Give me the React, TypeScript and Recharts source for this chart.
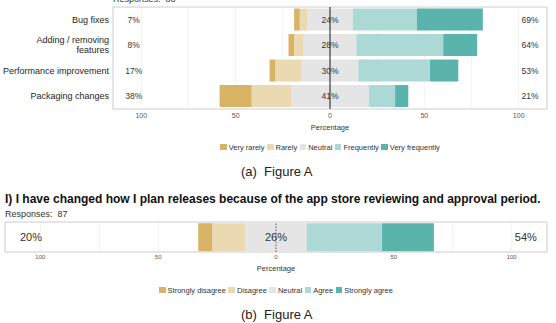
import React from 'react'
import {
  BarChart, Bar, XAxis, YAxis, CartesianGrid, ReferenceLine, ReferenceDot, ReferenceArea,
} from 'recharts'

const FONT = '"Liberation Sans", Arial, Helvetica, sans-serif'

// Release activities (frequency scale)
const ACTIVITIES = ['Bug fixes', 'Adding / removing\nfeatures', 'Performance improvement', 'Packaging changes']
const VERY_RARELY = [3, 3, 3, 17]
const RARELY = [4, 5, 14, 21]
const NEUTRAL = [24, 28, 30, 41]
const FREQUENTLY = [34, 46, 38, 14]
const VERY_FREQUENTLY = [35, 18, 15, 7]

// Release planning statement (agreement scale)
const STATEMENT = ['Release planning']
const STRONGLY_DISAGREE = [6]
const DISAGREE = [14]
const NEUTRAL_AGREE = [26]
const AGREE = [32]
const STRONGLY_AGREE = [22]

const FREQUENCY_LEVELS = ['Very rarely', 'Rarely', 'Neutral', 'Frequently', 'Very frequently']
const AGREEMENT_LEVELS = ['Strongly disagree', 'Disagree', 'Neutral', 'Agree', 'Strongly agree']
const LEVEL_COLORS = ['#D8B365', '#EBD9B2', '#E5E5E5', '#ACD9D5', '#5AB4AC']

const AXIS_TICKS = [-100, -50, 0, 50, 100]
const GRID_VALUES = [-100, -75, -50, -25, 0, 25, 50, 75, 100]
const DOMAIN: [number, number] = [-115, 115]
const LOW_LABEL_AT = -104
const HIGH_LABEL_AT = 106

function buildRows(items: string[], series: number[][]) {
  return items.map((item, i) => {
    const [l1, l2, n, h1, h2] = series.map((s) => s[i])
    return {
      item,
      neutralLow: -n / 2,
      low2: -l2,
      low1: -l1,
      neutralHigh: n / 2,
      high1: h1,
      high2: h2,
      lowPct: l1 + l2,
      midPct: n,
      highPct: h1 + h2,
    }
  })
}

const activityRows = buildRows(ACTIVITIES, [VERY_RARELY, RARELY, NEUTRAL, FREQUENTLY, VERY_FREQUENTLY])
const statementRows = buildRows(STATEMENT, [STRONGLY_DISAGREE, DISAGREE, NEUTRAL_AGREE, AGREE, STRONGLY_AGREE])

type Row = ReturnType<typeof buildRows>[number]

const ItemTick = (props: any) => {
  const { x, y, payload } = props
  const lines = String(payload.value).split('\n')
  return (
    <text x={x} y={y} textAnchor="end" fontSize={9} fill="#262626" fontFamily={FONT}>
      {lines.map((line, i) => (
        <tspan key={i} x={x} dy={i === 0 ? -(lines.length - 1) * 5 + 3.2 : 10}>
          {line}
        </tspan>
      ))}
    </text>
  )
}

interface LikertProps {
  rows: Row[]
  width: number
  height: number
  margin: { top: number; right: number; bottom: number; left: number }
  yWidth: number
  showItems: boolean
  xAxisHeight: number
  tickFont: number
  tickMargin: number
  titleOffset: number
  pctFont: number
  gap: string
  zeroDash?: string
  zeroColor: string
}

function LikertChart(p: LikertProps) {
  const pctLabel = (value: string) => ({
    value,
    position: 'center' as const,
    fontSize: p.pctFont,
    fill: '#333333',
    fontFamily: FONT,
  })
  return (
    <BarChart
      layout="vertical"
      width={p.width}
      height={p.height}
      data={p.rows}
      margin={p.margin}
      stackOffset="sign"
      barCategoryGap={p.gap}
    >
      <CartesianGrid horizontal={false} verticalValues={GRID_VALUES} stroke="#efefef" strokeWidth={0.8} />
      <XAxis
        type="number"
        domain={DOMAIN}
        ticks={AXIS_TICKS}
        allowDataOverflow
        tickFormatter={(v: number) => String(Math.abs(v))}
        axisLine={false}
        tickLine={false}
        tickSize={0}
        tickMargin={p.tickMargin}
        height={p.xAxisHeight}
        tick={{ fontSize: p.tickFont, fill: '#555555', fontFamily: FONT }}
        label={{
          value: 'Percentage',
          position: 'insideBottom',
          offset: p.titleOffset,
          fontSize: 7.5,
          fill: '#333333',
          fontFamily: FONT,
        }}
      />
      <YAxis
        type="category"
        dataKey="item"
        width={p.yWidth}
        hide={!p.showItems}
        interval={0}
        axisLine={false}
        tickLine={false}
        tickSize={0}
        tickMargin={4}
        tick={<ItemTick />}
      />
      <Bar dataKey="neutralLow" stackId="s" fill={LEVEL_COLORS[2]} isAnimationActive={false} />
      <Bar dataKey="low2" stackId="s" fill={LEVEL_COLORS[1]} isAnimationActive={false} />
      <Bar dataKey="low1" stackId="s" fill={LEVEL_COLORS[0]} isAnimationActive={false} />
      <Bar dataKey="neutralHigh" stackId="s" fill={LEVEL_COLORS[2]} isAnimationActive={false} />
      <Bar dataKey="high1" stackId="s" fill={LEVEL_COLORS[3]} isAnimationActive={false} />
      <Bar dataKey="high2" stackId="s" fill={LEVEL_COLORS[4]} isAnimationActive={false} />
      <ReferenceLine x={0} stroke={p.zeroColor} strokeWidth={1} strokeDasharray={p.zeroDash} />
      <ReferenceArea x1={DOMAIN[0]} x2={DOMAIN[1]} fill="none" stroke="#cccccc" strokeWidth={1} />
      {p.rows.map((r) => (
        <React.Fragment key={r.item}>
          <ReferenceDot x={LOW_LABEL_AT} y={r.item} r={1} fill="none" stroke="none" label={pctLabel(`${r.lowPct}%`)} />
          <ReferenceDot x={0} y={r.item} r={1} fill="none" stroke="none" label={pctLabel(`${r.midPct}%`)} />
          <ReferenceDot x={HIGH_LABEL_AT} y={r.item} r={1} fill="none" stroke="none" label={pctLabel(`${r.highPct}%`)} />
        </React.Fragment>
      ))}
    </BarChart>
  )
}

function LevelLegend({ levels, left, top, width }: { levels: string[]; left: number; top: number; width: number }) {
  return (
    <div
      style={{
        position: 'absolute', left, top, width, display: 'flex', justifyContent: 'center',
        alignItems: 'center', gap: 2.5, fontSize: 7.5, color: '#333333', fontFamily: FONT, lineHeight: '9px',
      }}
    >
      {levels.map((lv, i) => (
        <span key={lv} style={{ display: 'flex', alignItems: 'center', gap: 2 }}>
          <span style={{ width: 6.5, height: 6.5, background: LEVEL_COLORS[i], display: 'inline-block' }} />
          {lv}
        </span>
      ))}
    </div>
  )
}

const caption: React.CSSProperties = {
  position: 'absolute', left: 241, fontSize: 13, color: '#222222', fontFamily: FONT, lineHeight: '15px',
  whiteSpace: 'pre',
}

export default function App() {
  return (
    <div
      style={{
        position: 'absolute', left: 0, top: 0, width: 556, height: 323, overflow: 'hidden',
        background: '#ffffff', fontFamily: FONT,
      }}
    >
      <div style={{ position: 'absolute', left: 113, top: -5, fontSize: 9, lineHeight: '9px', color: '#333333', whiteSpace: 'pre' }}>
        Responses:  88
      </div>
      <div style={{ position: 'absolute', left: 0, top: 0 }}>
        <LikertChart
          rows={activityRows}
          width={556}
          height={136}
          margin={{ top: 7, right: 9, bottom: 0, left: 0 }}
          yWidth={113}
          showItems
          xAxisHeight={27}
          tickFont={7}
          tickMargin={4}
          titleOffset={6.5}
          pctFont={8.5}
          gap="6%"
          zeroColor="#1a1a1a"
        />
      </div>
      <LevelLegend levels={FREQUENCY_LEVELS} left={113} top={142.5} width={434} />
      <div style={{ ...caption, top: 164 }}>{'(a)  Figure A'}</div>

      <div style={{ position: 'absolute', left: 5, top: 192, fontSize: 12, fontWeight: 'bold', color: '#111111', lineHeight: '14px', whiteSpace: 'pre' }}>
        I) I have changed how I plan releases because of the app store reviewing and approval period.
      </div>
      <div style={{ position: 'absolute', left: 5, top: 209, fontSize: 9, lineHeight: '10px', color: '#333333', whiteSpace: 'pre' }}>
        Responses:  87
      </div>
      <div style={{ position: 'absolute', left: 0, top: 215 }}>
        <LikertChart
          rows={statementRows}
          width={556}
          height={60}
          margin={{ top: 7, right: 9, bottom: 0, left: 5 }}
          yWidth={0}
          showItems={false}
          xAxisHeight={23}
          tickFont={6}
          tickMargin={3}
          titleOffset={4}
          pctFont={11}
          gap="4%"
          zeroDash="1.5 1.5"
          zeroColor="#555555"
        />
      </div>
      <LevelLegend levels={AGREEMENT_LEVELS} left={5} top={285.5} width={542} />
      <div style={{ ...caption, top: 307 }}>{'(b)  Figure A'}</div>
    </div>
  )
}
